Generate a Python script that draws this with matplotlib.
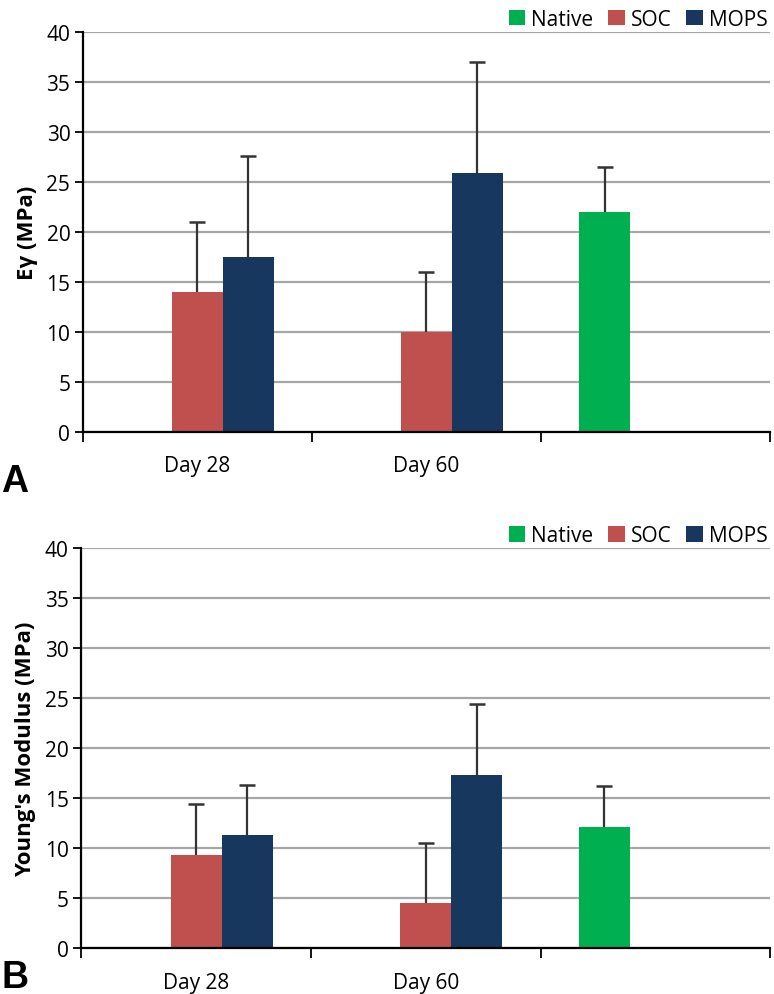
#!/usr/bin/env python3
"""
Twee staafdiagrammen (A en B): stijfheid van SOC en MOPS op dag 28 en 60, met Native als referentie.
"""

import matplotlib.pyplot as plt
import numpy as np

# Categorieen op de x-as (derde categorie zonder label, daar staat Native)
categorieen = ["Day 28", "Day 60", ""]
reeksen = ["Native", "SOC", "MOPS"]
kleuren = {"Native": "#00B050", "SOC": "#C0504D", "MOPS": "#17375E"}

# Paneel A: Ey (MPa), gemiddelde en bovenste foutbalk (SD)
a_native = [np.nan, np.nan, 22.0]
a_native_sd = [0, 0, 4.5]
a_soc = [14.0, 10.0, np.nan]
a_soc_sd = [7.0, 6.0, 0]
a_mops = [17.5, 25.9, np.nan]
a_mops_sd = [10.1, 11.1, 0]

# Paneel B: Young's modulus (MPa)
b_native = [np.nan, np.nan, 12.1]
b_native_sd = [0, 0, 4.1]
b_soc = [9.3, 4.5, np.nan]
b_soc_sd = [5.1, 6.0, 0]
b_mops = [11.3, 17.3, np.nan]
b_mops_sd = [5.0, 7.1, 0]

plt.rcParams["font.family"] = ["Open Sans", "DejaVu Sans"]

fig = plt.figure(figsize=(7.74, 9.95), dpi=100)


def teken_paneel(ax, waarden, fouten, ylabel):
    """Tekent een geclusterd staafdiagram met alleen bovenste foutbalken."""
    x = np.arange(len(categorieen))
    breedte = 0.222
    ax.set_axisbelow(True)
    for i, naam in enumerate(reeksen):
        hoogte = np.array(waarden[naam], dtype=float)
        sd = np.array(fouten[naam], dtype=float)
        pos = x + (i - 1) * breedte
        ax.bar(pos, np.nan_to_num(hoogte), breedte, color=kleuren[naam], label=naam, zorder=2)
        geldig = ~np.isnan(hoogte)
        _, caps, _ = ax.errorbar(
            pos[geldig],
            hoogte[geldig],
            yerr=[np.zeros(geldig.sum()), sd[geldig]],
            fmt="none",
            ecolor="#333333",
            elinewidth=1.6,
            capsize=6,
            capthick=1.8,
            zorder=3,
        )
        # Alleen de bovenste dop tonen
        caps[0].set_visible(False)

    ax.set_xlim(-0.5, 2.5)
    ax.set_ylim(0, 40)
    ax.set_yticks(range(0, 41, 5))
    ax.grid(axis="y", color="#a6a6a6", linewidth=1.6)
    ax.set_xticks(x)
    ax.set_xticklabels(categorieen, fontsize=15)
    ax.tick_params(axis="x", which="major", length=0, pad=17)
    ax.set_xticks(np.arange(-0.5, 2.6, 1.0), minor=True)
    ax.tick_params(axis="x", which="minor", length=7, width=1.3, direction="out")
    ax.tick_params(axis="y", length=6, width=1.3, labelsize=15, pad=3)
    for kant in ["top", "right"]:
        ax.spines[kant].set_visible(False)
    for kant in ["left", "bottom"]:
        ax.spines[kant].set_linewidth(1.6)
    ax.set_ylabel(ylabel, fontsize=16, fontweight="bold", labelpad=6)
    ax.legend(
        loc="lower right",
        bbox_to_anchor=(1.0, 1.0),
        ncol=3,
        frameon=False,
        fontsize=15,
        handlelength=0.8,
        handleheight=0.8,
        handletextpad=0.3,
        columnspacing=0.7,
        borderaxespad=0.1,
        borderpad=0.0,
    )


ax_a = fig.add_axes([0.107, 0.565, 0.888, 0.402])
teken_paneel(
    ax_a,
    {"Native": a_native, "SOC": a_soc, "MOPS": a_mops},
    {"Native": a_native_sd, "SOC": a_soc_sd, "MOPS": a_mops_sd},
    "E\u03b3 (MPa)",
)

ax_b = fig.add_axes([0.105, 0.046, 0.89, 0.4018])
teken_paneel(
    ax_b,
    {"Native": b_native, "SOC": b_soc, "MOPS": b_mops},
    {"Native": b_native_sd, "SOC": b_soc_sd, "MOPS": b_mops_sd},
    "Young's Modulus (MPa)",
)

fig.text(0.002, 0.5055, "A", fontsize=27, fontweight="bold", family="Liberation Sans", va="baseline")
fig.text(0.002, 0.007, "B", fontsize=27, fontweight="bold", family="Liberation Sans", va="baseline")

fig.savefig("out.png", dpi=100)
